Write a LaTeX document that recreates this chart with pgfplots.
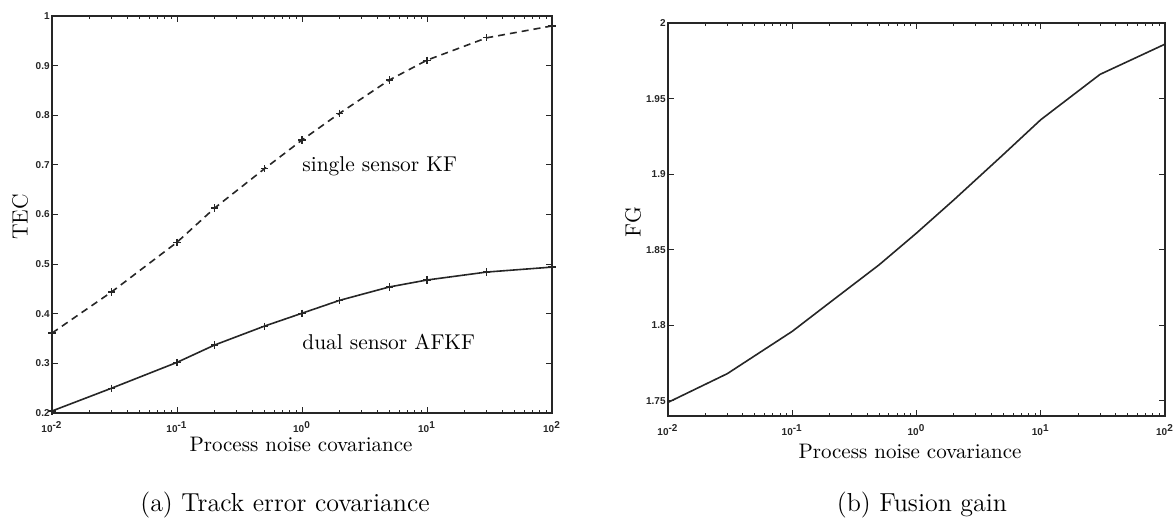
\documentclass[border=0pt]{standalone}
\usepackage{fontspec}
\usepackage{pgfplots}
\pgfplotsset{compat=1.18}
\newfontfamily\tickfont{Liberation Sans}

% Track error covariance: single sensor KF versus dual sensor AFKF
\pgfplotstableread{
q      tec
0.01   0.361
0.03   0.444
0.1    0.544
0.2    0.613
0.5    0.692
1      0.750
2      0.804
5      0.871
10     0.911
30     0.956
100    0.980
}\singleKF
\pgfplotstableread{
q      tec
0.01   0.204
0.03   0.250
0.1    0.302
0.2    0.337
0.5    0.375
1      0.401
2      0.427
5      0.454
10     0.468
30     0.484
100    0.494
}\dualAFKF
% Fusion gain
\pgfplotstableread{
q      fg
0.01   1.749
0.03   1.768
0.1    1.796
0.2    1.815
0.5    1.840
1      1.861
2      1.883
5      1.913
10     1.936
30     1.966
100    1.986
}\fusiongain

\pgfplotsset{
  matlabbox/.style={
    scale only axis,
    xmin=0.01, xmax=100,
    axis line style={line width=0.9pt, black!85},
    every tick/.style={line width=0.5pt, black!85},
    major tick length=3pt,
    minor tick length=1.6pt,
    tick align=inside,
    xtick pos=both, ytick pos=both,
    xtick={0.01,0.1,1,10,100},
    xticklabels={10\textsuperscript{-2},10\textsuperscript{-1},10\textsuperscript{0},10\textsuperscript{1},10\textsuperscript{2}},
    minor xtick={0.02,0.03,0.04,0.05,0.06,0.07,0.08,0.09,
                 0.2,0.3,0.4,0.5,0.6,0.7,0.8,0.9,
                 2,3,4,5,6,7,8,9,
                 20,30,40,50,60,70,80,90},
    ticklabel style={font=\tickfont\bfseries\fontsize{5}{6}\selectfont, text=black!85},
    xticklabel style={inner sep=0pt, yshift=-4pt},
    yticklabel style={inner sep=1pt},
    clip=false,
  },
  curve/.style={line width=0.8pt, black!85},
}

\begin{document}
\begin{tikzpicture}
\useasboundingbox (0pt,0pt) rectangle (586.5pt,-261pt);

% (a) Track error covariance
\begin{semilogxaxis}[matlabbox,
  at={(26pt,-8pt)}, anchor=north west,
  width=250pt, height=198.5pt,
  ymin=0.2, ymax=1,
  ytick={0.2,0.3,0.4,0.5,0.6,0.7,0.8,0.9,1},
  yticklabels={0.2,0.3,0.4,0.5,0.6,0.7,0.8,0.9,1},
]
\addplot[curve, dash pattern=on 3.5pt off 2.5pt, mark=+, mark size=1.8pt,
  mark options={solid, line width=0.6pt}] table[x=q, y=tec] {\singleKF};
\addplot[curve, mark=+, mark size=1.8pt,
  mark options={solid, line width=0.6pt}] table[x=q, y=tec] {\dualAFKF};
\node[anchor=west, inner sep=0pt, font=\fontsize{10.7}{12}\selectfont]
  at (axis cs:1,0.698) {single sensor KF};
\node[anchor=west, inner sep=0pt, font=\fontsize{10.7}{12}\selectfont]
  at (axis cs:1,0.343) {dual sensor AFKF};
\end{semilogxaxis}

% (b) Fusion gain
\begin{semilogxaxis}[matlabbox,
  at={(334pt,-11.5pt)}, anchor=north west,
  width=248.5pt, height=196.5pt,
  ymin=1.74, ymax=2,
  ytick={1.75,1.8,1.85,1.9,1.95,2},
  yticklabels={1.75,1.8,1.85,1.9,1.95,2},
]
\addplot[curve] table[x=q, y=fg] {\fusiongain};
\end{semilogxaxis}

% axis titles and sub-captions
\node[rotate=90, font=\fontsize{11}{13}\selectfont] at (10pt,-108.5pt) {TEC};
\node[rotate=90, font=\fontsize{11}{13}\selectfont] at (316.5pt,-111pt) {FG};
\node[font=\fontsize{10.5}{12}\selectfont] at (150.5pt,-222pt) {Process noise covariance};
\node[font=\fontsize{10.5}{12}\selectfont] at (455pt,-225.5pt) {Process noise covariance};
\node[font=\fontsize{13}{15}\selectfont] at (142.5pt,-252.5pt) {(a) Track error covariance};
\node[font=\fontsize{13}{15}\selectfont] at (461pt,-252.5pt) {(b) Fusion gain};
\end{tikzpicture}
\end{document}
